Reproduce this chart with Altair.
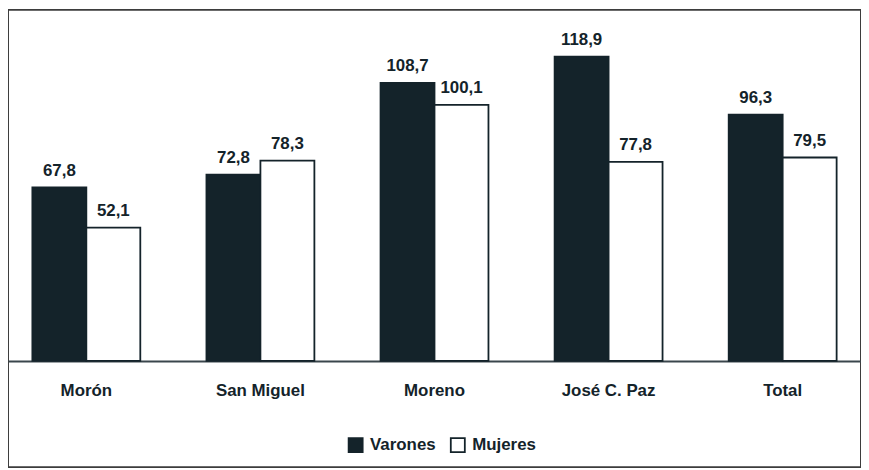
import altair as alt
import pandas as pd

categories = ["Morón", "San Miguel", "Moreno", "José C. Paz", "Total"]
varones = [67.8, 72.8, 108.7, 118.9, 96.3]
mujeres = [52.1, 78.3, 100.1, 77.8, 79.5]
series = ["Varones", "Mujeres"]

DARK = "#14232a"
FONT = "Liberation Sans"
W, H = 860, 461

rows = []
for c, v, m in zip(categories, varones, mujeres):
    rows.append({"cat": c, "sexo": "Varones", "valor": v})
    rows.append({"cat": c, "sexo": "Mujeres", "valor": m})
df = pd.DataFrame(rows)
df["label"] = df["valor"].map(lambda x: f"{x:.1f}".replace(".", ","))

x = alt.X("cat:N", sort=categories, title=None,
          scale=alt.Scale(paddingInner=0.38, paddingOuter=0.14),
          axis=alt.Axis(offset=-107, labelAngle=0, ticks=False, domain=True,
                        domainColor="#3a464c", domainWidth=2,
                        labelFont=FONT, labelFontSize=17, labelFontWeight="bold",
                        labelColor=DARK, labelPadding=22))
xo = alt.XOffset("sexo:N", sort=series)
y = alt.Y("valor:Q", scale=alt.Scale(domain=[-41.5, 137.2], nice=False, zero=False),
          axis=None)

bars = alt.Chart(df).mark_bar(stroke=DARK, strokeWidth=1.8).encode(
    x=x, xOffset=xo, y=y, y2=alt.datum(0),
    fill=alt.Fill("sexo:N", sort=series,
                  scale=alt.Scale(domain=series, range=[DARK, "#ffffff"]),
                  legend=alt.Legend(title=None, orient="none", direction="horizontal",
                                    legendX=342, legendY=430, symbolType="square",
                                    symbolSize=200, symbolStrokeColor=DARK,
                                    symbolStrokeWidth=1.8, labelFont=FONT,
                                    labelFontSize=17, labelFontWeight="bold",
                                    labelColor=DARK, columnPadding=10, labelOffset=6,
                                    symbolOffset=0)),
)

text = alt.Chart(df).mark_text(baseline="alphabetic", dy=-12, font=FONT, fontSize=17,
                               fontWeight="bold", color=DARK).encode(
    x=x, xOffset=xo, y=y, text="label:N")

chart = (bars + text).properties(width=W, height=H, padding=0).configure_view(
    stroke="#3d3d3d", strokeWidth=2)

chart.save("out.html", embed_options={"renderer": "svg", "actions": False})
